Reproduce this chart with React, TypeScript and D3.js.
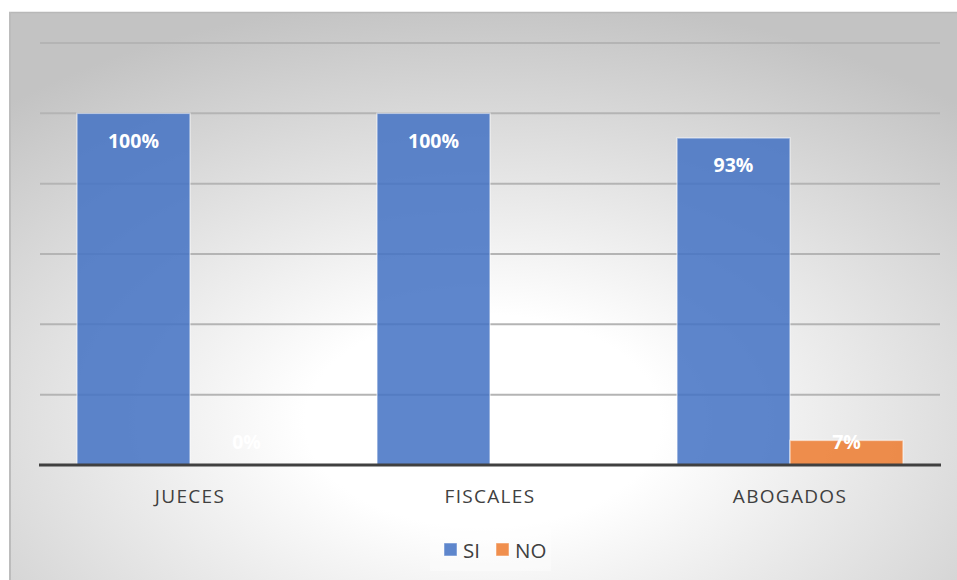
import React from "react";
import * as d3 from "d3";

const categories = ["JUECES", "FISCALES", "ABOGADOS"];
const seriesNames = ["SI", "NO"];
const siValues = [1.0, 1.0, 0.93];
const noValues = [0.0, null, 0.07];
const yTicks = [0, 0.2, 0.4, 0.6, 0.8, 1.0, 1.2];
const colors = ["#4472c4", "#ed7d31"];

export default function App() {
  const W = 957, H = 580;
  const plotL = 40, plotR = 940, plotT = 43, plotB = 465;
  const x0 = d3.scaleBand<string>().domain(categories).range([plotL, plotR]).paddingInner(0.2467).paddingOuter(0.1233);
  const x1 = d3.scaleBand<string>().domain(seriesNames).range([0, x0.bandwidth()]);
  const y = d3.scaleLinear().domain([0, 1.2]).range([plotB, plotT]);
  const series = [siValues, noValues];
  const font = "'Open Sans', 'Liberation Sans', sans-serif";

  return (
    <svg width={W} height={H} style={{ position: "absolute", left: 0, top: 0 }}>
      <defs>
        <radialGradient id="bg" cx="0.5" cy="0.72" r="0.75" gradientUnits="objectBoundingBox">
          <stop offset="0" stopColor="#ffffff" />
          <stop offset="0.25" stopColor="#ffffff" />
          <stop offset="1" stopColor="#c3c3c3" />
        </radialGradient>
      </defs>
      <rect x={9} y={12} width={W - 9} height={H - 12} fill="url(#bg)" />
      <line x1={9} x2={W} y1={12.5} y2={12.5} stroke="#b8b8b8" strokeWidth={1.5} />
      <line x1={10} x2={10} y1={12} y2={H} stroke="#bcbcbc" strokeWidth={2} />
      {yTicks.filter((t) => t > 0).map((t) => (
        <line key={t} x1={plotL} x2={plotR} y1={y(t)} y2={y(t)} stroke="#b4b4b4" strokeWidth={2} />
      ))}
      {categories.map((c, i) =>
        series.map((vals, si) => {
          const v = vals[i];
          if (v === null || v === undefined) return null;
          const bx = (x0(c) ?? 0) + (x1(seriesNames[si]) ?? 0);
          const bw = x1.bandwidth();
          const top = y(v);
          return (
            <g key={c + si}>
              {v > 0 && (
                <rect x={bx} y={top} width={bw} height={plotB - top} fill={colors[si]} fillOpacity={0.86}
                  stroke="#ffffff" strokeOpacity={0.5} strokeWidth={1.5} />
              )}
              <text x={bx + bw / 2} y={Math.min(top + 27, plotB - 24)} textAnchor="middle" dominantBaseline="central"
                fill="#ffffff" fontFamily={font} fontWeight={700} fontSize={19.5}>
                {Math.round(v * 100) + "%"}
              </text>
            </g>
          );
        })
      )}
      <line x1={39} x2={941} y1={plotB} y2={plotB} stroke="#404040" strokeWidth={3} />
      {categories.map((c) => (
        <text key={c} x={(x0(c) ?? 0) + x0.bandwidth() / 2} y={496} textAnchor="middle" dominantBaseline="central"
          fill="#404040" fontFamily={font} fontSize={19} letterSpacing={1.3}>
          {c}
        </text>
      ))}
      <rect x={430} y={527} width={121} height={44} fill="#ffffff" fillOpacity={0.35} />
      {seriesNames.map((s, i) => {
        const lx = i === 0 ? 444 : 496;
        return (
          <g key={s}>
            <rect x={lx} y={543} width={13} height={13} fill={colors[i]} fillOpacity={0.86} stroke="#ffffff" strokeOpacity={0.5} />
            <text x={lx + 19} y={550} dominantBaseline="central" fill="#404040" fontFamily={font} fontSize={20.5}>
              {s}
            </text>
          </g>
        );
      })}
    </svg>
  );
}
